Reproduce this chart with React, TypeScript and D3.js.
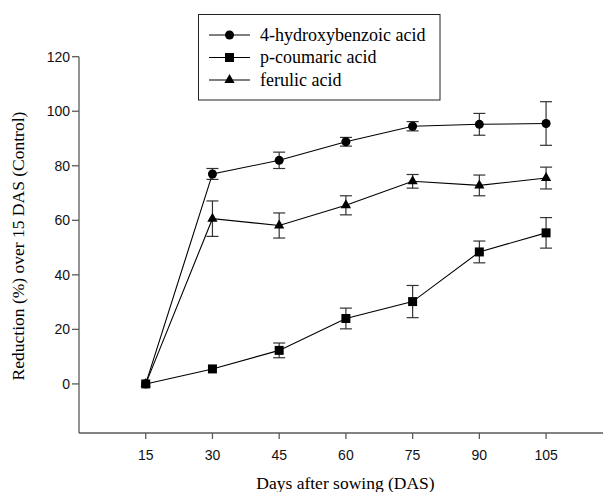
import React from "react";
import * as d3 from "d3";

// Days after sowing
const days = [15, 30, 45, 60, 75, 90, 105];
const xTicks = [15, 30, 45, 60, 75, 90, 105];
const yTicks = [0, 20, 40, 60, 80, 100, 120];

// reduction (%) and error (±)
const hydroxy = [0, 77, 82, 88.8, 94.5, 95.2, 95.5];
const hydroxyErr = [0, 2, 3, 1.6, 1.7, 4, 8];
const coumaric = [0, 5.5, 12.3, 24, 30.2, 48.4, 55.4];
const coumaricErr = [0, 0, 2.7, 3.8, 5.9, 4, 5.6];
const ferulic = [0, 60.6, 58.1, 65.5, 74.3, 72.8, 75.5];
const ferulicErr = [0, 6.5, 4.6, 3.5, 2.5, 3.8, 4];

const seriesNames = ["4-hydroxybenzoic acid", "p-coumaric acid", "ferulic acid"];

const W = 603;
const H = 492;
const serif = "'Liberation Serif', 'Times New Roman', serif";
const sans = "'Liberation Sans', Arial, sans-serif";

export default function App() {
  const x = d3.scaleLinear().domain([0, 120]).range([79, 612.8]);
  const y = d3.scaleLinear().domain([-18, 120]).range([433, 56.7]);

  const series = [
    { name: seriesNames[0], values: hydroxy, err: hydroxyErr, symbol: d3.symbolCircle, size: 64 },
    { name: seriesNames[1], values: coumaric, err: coumaricErr, symbol: d3.symbolSquare, size: 81 },
    { name: seriesNames[2], values: ferulic, err: ferulicErr, symbol: d3.symbolTriangle, size: 46 },
  ];

  const line = d3
    .line<number>()
    .x((_, i) => x(days[i]))
    .y((v) => y(v));

  const axisColor = "#5a5a5a";
  const cap = 6;

  return (
    <svg
      width={W}
      height={H}
      style={{ position: "absolute", left: 0, top: 0, background: "#fff" }}
    >
      {/* error bars */}
      {series.map((s, si) => (
        <g key={"e" + si} stroke="#333" strokeWidth={1.2}>
          {s.values.map((v, i) =>
            s.err[i] > 0 ? (
              <g key={i}>
                <line x1={x(days[i])} x2={x(days[i])} y1={y(v + s.err[i])} y2={y(v - s.err[i])} />
                <line x1={x(days[i]) - cap} x2={x(days[i]) + cap} y1={y(v + s.err[i])} y2={y(v + s.err[i])} />
                <line x1={x(days[i]) - cap} x2={x(days[i]) + cap} y1={y(v - s.err[i])} y2={y(v - s.err[i])} />
              </g>
            ) : null
          )}
        </g>
      ))}

      {/* lines */}
      {series.map((s, si) => (
        <path key={"l" + si} d={line(s.values) || ""} fill="none" stroke="#000" strokeWidth={1.1} />
      ))}

      {/* markers */}
      {series.map((s, si) => (
        <g key={"m" + si}>
          {s.values.map((v, i) => (
            <path
              key={i}
              d={d3.symbol().type(s.symbol).size(s.size)() || ""}
              transform={`translate(${x(days[i])},${y(v)})`}
              fill="#000"
            />
          ))}
        </g>
      ))}

      {/* axes */}
      <g stroke={axisColor} strokeWidth={1.3}>
        <line x1={x(0)} x2={x(0)} y1={y(120)} y2={y(-18)} />
        <line x1={x(0)} x2={x(120)} y1={y(-18)} y2={y(-18)} />
        {yTicks.map((t) => (
          <line key={"yt" + t} x1={x(0) - 7} x2={x(0)} y1={y(t)} y2={y(t)} />
        ))}
        {xTicks.map((t) => (
          <line key={"xt" + t} x1={x(t)} x2={x(t)} y1={y(-18)} y2={y(-18) + 6} />
        ))}
      </g>
      <g fontFamily={sans} fontSize={14} fill="#111">
        {yTicks.map((t) => (
          <text key={"yl" + t} x={x(0) - 9} y={y(t)} dy="0.35em" textAnchor="end">
            {t}
          </text>
        ))}
        {xTicks.map((t) => (
          <text key={"xl" + t} x={x(t)} y={y(-18) + 27} textAnchor="middle">
            {t}
          </text>
        ))}
      </g>

      {/* axis titles */}
      <text
        fontFamily={serif}
        fontSize={17.5}
        textAnchor="middle"
        transform="translate(24,246) rotate(-90)"
      >
        Reduction (%) over 15 DAS (Control)
      </text>
      <text fontFamily={serif} fontSize={17.5} textAnchor="middle" x={345.5} y={488.5}>
        Days after sowing (DAS)
      </text>

      {/* legend */}
      <rect x={198.5} y={14.5} width={241.5} height={85.5} fill="#fff" stroke="#222" strokeWidth={1} />
      {series.map((s, si) => {
        const ly = 35 + si * 22.5;
        return (
          <g key={"lg" + si}>
            <line x1={209} x2={250} y1={ly} y2={ly} stroke="#000" strokeWidth={1.1} />
            <path
              d={d3.symbol().type(s.symbol).size(s.size)() || ""}
              transform={`translate(229.5,${ly})`}
              fill="#000"
            />
            <text x={260} y={ly + 5.5} fontFamily={serif} fontSize={18}>
              {s.name}
            </text>
          </g>
        );
      })}
    </svg>
  );
}
